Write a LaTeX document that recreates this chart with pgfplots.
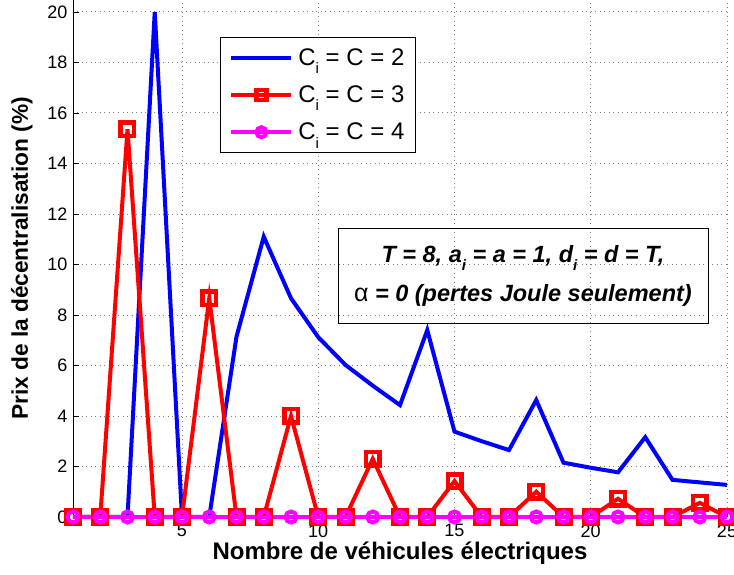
\documentclass[border=0pt]{standalone}
\usepackage{fontspec}
\setmainfont{Liberation Sans}
\usepackage{pgfplots}
\pgfplotsset{compat=1.18}

\definecolor{mblue}{RGB}{0,0,255}
\definecolor{mred}{RGB}{255,0,0}
\definecolor{mmag}{RGB}{255,0,255}

\newcommand{\sub}[1]{\raisebox{-0.65ex}{\fontsize{15}{15}\selectfont #1}}

\begin{document}
\begin{tikzpicture}
  \begin{axis}[
    scale only axis,
    width=654pt, height=517pt,
    xmin=1, xmax=25, ymin=0, ymax=20.47,
    clip=false,
    axis x line*=bottom, axis y line*=left,
    xtick={5,10,15,20,25}, ytick={0,2,...,20},
    tick align=inside, major tick length=6pt,
    tick style={black, line width=0.6pt},
    axis line style={line width=0.8pt},
    grid=major,
    grid style={gray, line width=0.8pt, dash pattern=on 1pt off 3.5pt},
    tick label style={font=\fontsize{18}{20}\selectfont},
    /pgf/number format/assume math mode=true,
    xticklabel style={yshift=-4pt},
    yticklabel style={xshift=-2pt},
    every axis x label/.style={at={(axis description cs:0.5,0)}, yshift=-36pt, anchor=center, font=\bfseries\fontsize{24}{26}\selectfont},
    every axis y label/.style={at={(axis description cs:0,0.5)}, xshift=-51pt, rotate=90, anchor=center, font=\bfseries\fontsize{22.7}{24}\selectfont},
    xlabel={Nombre de véhicules électriques},
    ylabel={Prix de la décentralisation (\%)},
    legend style={at={(axis description cs:0.2248,0.928)}, anchor=north west,
      draw=black, line width=0.8pt, fill=white,
      font=\fontsize{24}{27}\selectfont,
      inner xsep=9pt, inner ysep=9pt, row sep=15pt},
    legend cell align=left,
    legend image code/.code={\draw[mark repeat=2,mark phase=2,mark size=5pt] plot coordinates {(0pt,0pt)(30pt,0pt)(60pt,0pt)};},
  ]
    \addplot [mblue, line width=4pt] coordinates {
      (1,0) (2,0) (3,0) (4,20) (5,0) (6,0) (7,7.14) (8,11.1) (9,8.66)
      (10,7.12) (11,6.02) (12,5.2) (13,4.43) (14,7.4) (15,3.38) (16,3.0)
      (17,2.65) (18,4.63) (19,2.15) (20,1.95) (21,1.77) (22,3.16) (23,1.47)
      (24,1.37) (25,1.27)
    };
    \addlegendentry{\hspace{3pt}C\sub{i} = C = 2}
    \addplot [mred, line width=4pt, mark=square, mark size=6.75pt,
      mark options={solid, line width=4.5pt}] coordinates {
      (1,0) (2,0) (3,15.35) (4,0) (5,0) (6,8.66) (7,0) (8,0) (9,4.0)
      (10,0) (11,0) (12,2.3) (13,0) (14,0) (15,1.42) (16,0) (17,0)
      (18,1.0) (19,0) (20,0) (21,0.72) (22,0) (23,0) (24,0.56) (25,0)
    };
    \addlegendentry{\hspace{3pt}C\sub{i} = C = 3}
    \addplot [mmag, line width=4pt, mark=o, mark size=5.5pt,
      mark options={line width=4pt}] coordinates {
      (1,0) (2,0) (3,0) (4,0) (5,0) (6,0) (7,0) (8,0) (9,0) (10,0) (11,0)
      (12,0) (13,0) (14,0) (15,0) (16,0) (17,0) (18,0) (19,0) (20,0) (21,0)
      (22,0) (23,0) (24,0) (25,0)
    };
    \addlegendentry{\hspace{3pt}C\sub{i} = C = 4}
    \node [draw=black, line width=0.8pt, align=center,
      minimum width=370pt, minimum height=95pt,
      font=\bfseries\itshape\fontsize{23.5}{39}\selectfont]
      at (axis description cs:0.688,0.467)
      {T = 8, a\sub{i} = a = 1, d\sub{i} = d = T,\\
       {\upshape\mdseries\fontsize{25}{39}\selectfont α} = 0 (pertes Joule seulement)};
  \end{axis}
  \pgfresetboundingbox
  \useasboundingbox (-73pt,-58pt) rectangle (661pt,517pt);
\end{tikzpicture}
\end{document}
